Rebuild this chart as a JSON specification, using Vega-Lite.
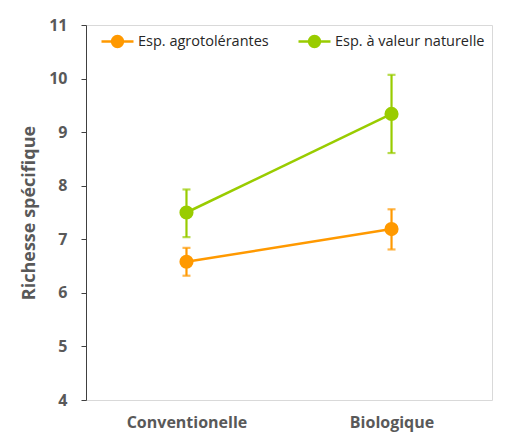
{
  "$schema": "https://vega.github.io/schema/vega-lite/v6.json",
  "width": 406,
  "height": 375,
  "autosize": {"type": "none"},
  "padding": {"left": 86, "top": 25, "right": 25, "bottom": 43},
  "background": "white",
  "config": {
    "view": {"stroke": "#d9d9d9", "strokeWidth": 1},
    "font": "Open Sans"
  },
  "data": {
    "values": [
      {"systeme": "Conventionelle", "groupe": "Esp. agrotolérantes", "moyenne": 6.58, "bas": 6.32, "haut": 6.84},
      {"systeme": "Biologique", "groupe": "Esp. agrotolérantes", "moyenne": 7.19, "bas": 6.81, "haut": 7.56},
      {"systeme": "Conventionelle", "groupe": "Esp. à valeur naturelle", "moyenne": 7.50, "bas": 7.04, "haut": 7.93},
      {"systeme": "Biologique", "groupe": "Esp. à valeur naturelle", "moyenne": 9.34, "bas": 8.61, "haut": 10.07}
    ]
  },
  "encoding": {
    "x": {
      "field": "systeme", "type": "nominal", "sort": ["Conventionelle", "Biologique"],
      "scale": {"type": "point", "padding": 0.49},
      "axis": {"title": null, "domain": false, "ticks": false, "labelAngle": 0, "labelFontSize": 16, "labelFontWeight": "bold", "labelColor": "#595959", "labelPadding": 14}
    },
    "color": {
      "field": "groupe", "type": "nominal",
      "scale": {"domain": ["Esp. agrotolérantes", "Esp. à valeur naturelle"], "range": ["#ff9900", "#99cc00"]},
      "legend": {
        "title": null, "orient": "none", "direction": "horizontal", "legendX": 14, "legendY": -1,
        "symbolType": "M-1,0H1M-0.34,0A0.34,0.34 0 1,0 0.34,0A0.34,0.34 0 1,0 -0.34,0Z",
        "symbolSize": 1024, "symbolStrokeWidth": 2.5, "symbolOpacity": 1, "labelFontSize": 14.5, "labelColor": "#262626",
        "columnPadding": 24, "labelOffset": 3
      }
    }
  },
  "layer": [
    {
      "mark": {"type": "rule", "strokeWidth": 2.2},
      "encoding": {
        "y": {"field": "bas", "type": "quantitative"},
        "y2": {"field": "haut"}
      }
    },
    {
      "mark": {"type": "tick", "thickness": 2.2, "size": 8},
      "encoding": {"y": {"field": "bas", "type": "quantitative"}}
    },
    {
      "mark": {"type": "tick", "thickness": 2.2, "size": 8},
      "encoding": {"y": {"field": "haut", "type": "quantitative"}}
    },
    {
      "mark": {"type": "line", "strokeWidth": 2.5},
      "encoding": {"y": {"field": "moyenne", "type": "quantitative"}, "detail": {"field": "groupe"}}
    },
    {
      "mark": {"type": "point", "filled": true, "size": 200, "opacity": 1},
      "encoding": {
        "y": {
          "field": "moyenne", "type": "quantitative",
          "scale": {"domain": [4, 11], "nice": false, "zero": false},
          "axis": {"title": "Richesse spécifique", "titleFontSize": 18, "titleFontWeight": "bold", "titleColor": "#595959", "titlePadding": 10,
            "values": [4, 5, 6, 7, 8, 9, 10, 11], "format": "d", "grid": false, "domainColor": "#404040", "tickColor": "#404040", "tickSize": 5,
            "labelFontSize": 16, "labelFontWeight": "bold", "labelColor": "#595959", "labelPadding": 14}
        }
      }
    }
  ]
}
